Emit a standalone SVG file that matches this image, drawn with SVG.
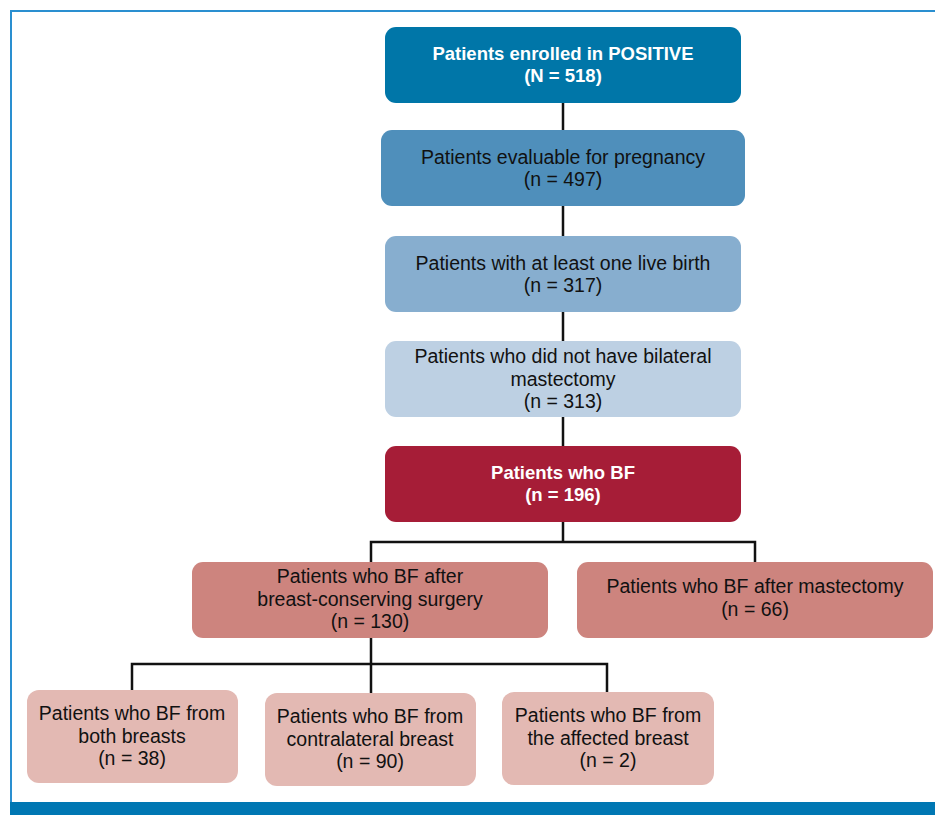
<svg xmlns="http://www.w3.org/2000/svg" width="935" height="815" viewBox="0 0 935 815">
<style>
text{font-family:"Liberation Sans",Arial,sans-serif;font-size:19.5px;text-anchor:middle;fill:#111}
.b{font-weight:bold;font-size:18.5px;fill:#fff}
.c{fill:none;stroke:#111;stroke-width:2.5}
</style>
<rect width="935" height="815" fill="#fff"/>
<g id="frame">
<path d="M11 802 V11 H935" fill="none" stroke="#2a8fd0" stroke-width="2"/>
<rect x="10" y="802" width="925" height="13" fill="#0077b3"/>
</g>
<g id="connectors" class="c">
<path class="c" d="M563 103 V130 M563 206 V236 M563 312 V341 M563 417 V446 M563 522 V542"/>
<path class="c" d="M371 562 V542 H755 V562"/>
<path class="c" d="M371 638 V693 M132 690 V664 H607 V692"/>
</g>
<g id="n1">
<rect x="385" y="27" width="356" height="76" rx="11" fill="#0076a8"/>
<text class="b" x="563" y="60">Patients enrolled in POSITIVE</text>
<text class="b" x="563" y="82">(N = 518)</text>
</g>
<g id="n2">
<rect x="381" y="130" width="364" height="76" rx="11" fill="#4f8fbb"/>
<text x="563" y="164">Patients evaluable for pregnancy</text>
<text x="563" y="186">(n = 497)</text>
</g>
<g id="n3">
<rect x="385" y="236" width="356" height="76" rx="11" fill="#87aecf"/>
<text x="563" y="270">Patients with at least one live birth</text>
<text x="563" y="292">(n = 317)</text>
</g>
<g id="n4">
<rect x="385" y="341" width="356" height="76" rx="11" fill="#bdd0e3"/>
<text x="563" y="363">Patients who did not have bilateral</text>
<text x="563" y="386">mastectomy</text>
<text x="563" y="408">(n = 313)</text>
</g>
<g id="n5">
<rect x="385" y="446" width="356" height="76" rx="11" fill="#a61d37"/>
<text class="b" x="563" y="479">Patients who BF</text>
<text class="b" x="563" y="501">(n = 196)</text>
</g>
<g id="n6">
<rect x="192" y="562" width="356" height="76" rx="11" fill="#cd847e"/>
<text x="370" y="583">Patients who BF after</text>
<text x="370" y="606">breast-conserving surgery</text>
<text x="370" y="628">(n = 130)</text>
</g>
<g id="n7">
<rect x="577" y="562" width="356" height="76" rx="11" fill="#cd847e"/>
<text x="755" y="593">Patients who BF after mastectomy</text>
<text x="755" y="616">(n = 66)</text>
</g>
<g id="n8">
<rect x="27" y="690" width="211" height="93" rx="12" fill="#e3b9b3"/>
<text x="132" y="720">Patients who BF from</text>
<text x="132" y="743">both breasts</text>
<text x="132" y="765">(n = 38)</text>
</g>
<g id="n9">
<rect x="265" y="693" width="211" height="93" rx="12" fill="#e3b9b3"/>
<text x="370" y="723">Patients who BF from</text>
<text x="370" y="746">contralateral breast</text>
<text x="370" y="768">(n = 90)</text>
</g>
<g id="n10">
<rect x="502" y="692" width="212" height="93" rx="12" fill="#e3b9b3"/>
<text x="608" y="722">Patients who BF from</text>
<text x="608" y="745">the affected breast</text>
<text x="608" y="767">(n = 2)</text>
</g>
</svg>
